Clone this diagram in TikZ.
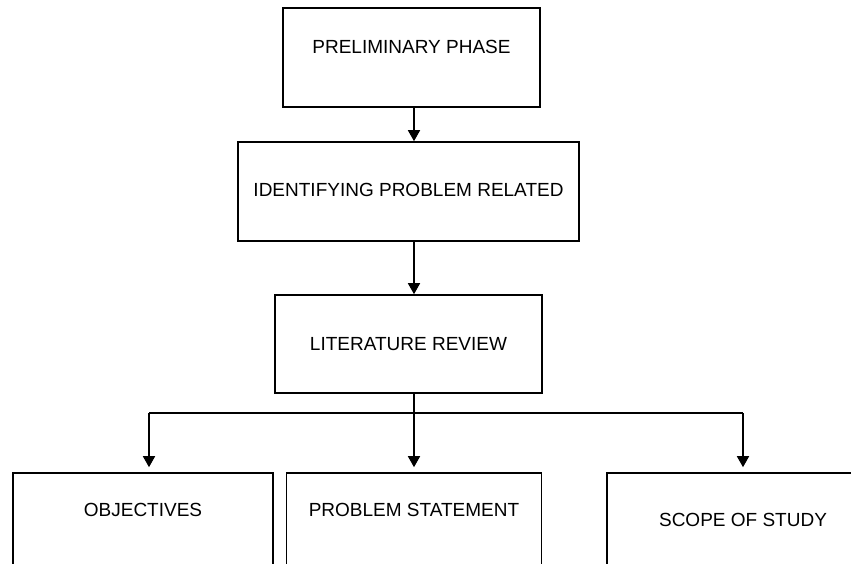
\documentclass[tikz,border=0pt]{standalone}
\usepackage{fontspec}
\setmainfont{Liberation Sans}
\usetikzlibrary{arrows.meta}

\tikzset{
	box/.style={shape=rectangle,draw=black,line width=1.6pt,inner sep=4pt,
		font=\fontsize{19}{22}\selectfont,text height=13.6pt,text depth=0pt},
	arr/.style={-{Triangle[length=11pt,width=12pt]},line width=1.6pt}
}

\begin{document}
\begin{tikzpicture}[x=1pt,y=-1pt]
	
	\clip (0,0) rectangle (851,564);
	\fill[white] (0,0) rectangle (851,564);
	
	\node[box,minimum width=257pt,minimum height=99pt,text depth=21pt] (prelim) at (411.5,57.5)  {PRELIMINARY PHASE};
	\node[box,minimum width=341pt,minimum height=99pt,text depth=3pt]  (ident)  at (408.5,191.5) {IDENTIFYING PROBLEM RELATED};
	\node[box,minimum width=267pt,minimum height=98pt]                 (lit)    at (408.5,344)   {LITERATURE REVIEW};
	\node[box,minimum width=260pt,minimum height=120pt,text depth=46pt] (obj)   at (143,533)     {OBJECTIVES};
	\node[box,minimum width=255pt,minimum height=120pt,text depth=46pt] (ps)    at (414,533)     {PROBLEM STATEMENT};
	\node[box,minimum width=272pt,minimum height=120pt,text depth=26pt] (sos)   at (743,533)     {SCOPE OF STUDY};
	
	\coordinate (bl) at (149,413);
	\coordinate (br) at (743,413);
	
	\draw[arr] (prelim.south -| ps) -- (ident.north -| ps);
	\draw[arr] (ident.south -| ps) -- (lit.north -| ps);
	\draw[arr,shorten >=5pt] (lit.south -| ps) -- (ps.north);
	\draw[line width=1.6pt] (bl) -- (br);
	\draw[arr,shorten >=5pt] (bl) -- (bl |- obj.north);
	\draw[arr,shorten >=5pt] (br) -- (br |- sos.north);
	\end{tikzpicture}
\end{document}
